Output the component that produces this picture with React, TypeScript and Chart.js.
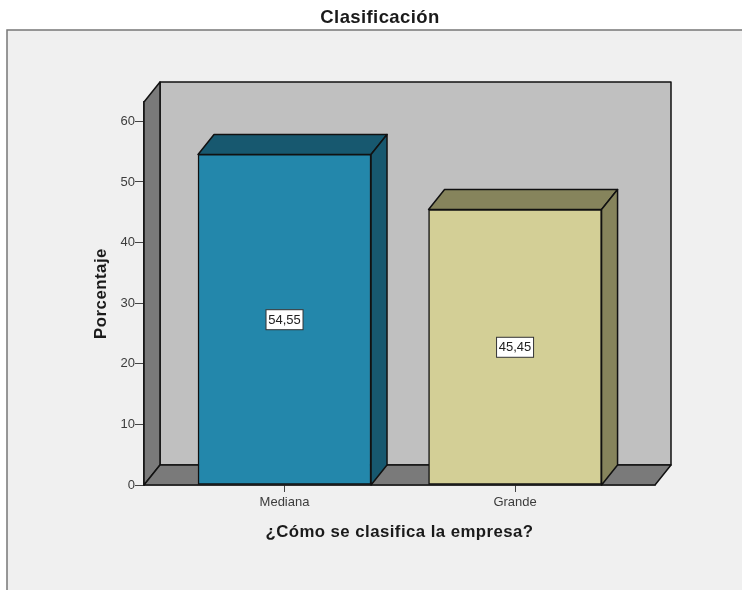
import React, { useEffect, useRef } from "react";
import { Chart, registerables } from "chart.js";

Chart.register(...registerables);

const chartTitle = "Clasificación";
const xAxisTitle = "¿Cómo se clasifica la empresa?";
const yAxisTitle = "Porcentaje";
const categories = ["Mediana", "Grande"];
const percentages = [54.55, 45.45];
const frontColors = ["#2387ab", "#d3cf96"];
const sideColors = ["#17586f", "#86845c"];
const yTicks = [0, 10, 20, 30, 40, 50, 60];
const yMax = 63.2;
const xMin = -0.6095;
const xMax = 1.607;

const FONT = "'Liberation Sans', Arial, sans-serif";
const DX = 16;
const DY = 20;
const EDGE = "#111111";

function poly(ctx: CanvasRenderingContext2D, pts: number[][], fill: string) {
  ctx.beginPath();
  pts.forEach((p, i) => (i ? ctx.lineTo(p[0], p[1]) : ctx.moveTo(p[0], p[1])));
  ctx.closePath();
  ctx.fillStyle = fill;
  ctx.fill();
  ctx.stroke();
}

// Spaced-out headings: wrap the library's own title drawing once.
function spaced(ctx: any, target: any, method: string, spacing: string) {
  if (!target || target["__spaced" + method]) return;
  const original = target[method];
  target["__spaced" + method] = true;
  target[method] = function (...args: any[]) {
    ctx.letterSpacing = spacing;
    original.apply(this, args);
    ctx.letterSpacing = "0px";
  };
}

const frame3d = {
  id: "frame3d",
  afterLayout(chart: any) {
    spaced(chart.ctx, chart.titleBlock, "draw", "0.4px");
    spaced(chart.ctx, chart.scales.x, "drawTitle", "0.45px");
    spaced(chart.ctx, chart.scales.y, "drawTitle", "0.5px");
  },
  beforeDraw(chart: any) {
    const { ctx, width, height } = chart;
    ctx.save();
    ctx.fillStyle = "#ffffff";
    ctx.fillRect(0, 0, width, height);
    ctx.fillStyle = "#f0f0f0";
    ctx.fillRect(7, 30, width - 7, height - 30);
    ctx.strokeStyle = "#777777";
    ctx.lineWidth = 1.5;
    ctx.beginPath();
    ctx.moveTo(7, height);
    ctx.lineTo(7, 30);
    ctx.lineTo(width, 30);
    ctx.stroke();
    ctx.restore();
  },
  beforeDatasetsDraw(chart: any) {
    const { ctx, chartArea: a } = chart;
    const { left: l, right: r, top: t, bottom: b } = a;
    ctx.save();
    ctx.strokeStyle = EDGE;
    ctx.lineWidth = 1.5;
    ctx.lineJoin = "round";
    poly(ctx, [[l + DX, t - DY], [r + DX, t - DY], [r + DX, b - DY], [l + DX, b - DY]], "#c0c0c0");
    poly(ctx, [[l, t], [l + DX, t - DY], [l + DX, b - DY], [l, b]], "#7a7a7a");
    poly(ctx, [[l, b], [l + DX, b - DY], [r + DX, b - DY], [r, b]], "#7a7a7a");
    chart.getDatasetMeta(0).data.forEach((bar: any, i: number) => {
      const x0 = bar.x - bar.width / 2;
      const x1 = bar.x + bar.width / 2;
      poly(ctx, [[x0, bar.y], [x0 + DX, bar.y - DY], [x1 + DX, bar.y - DY], [x1, bar.y]], sideColors[i]);
      poly(ctx, [[x1, bar.y], [x1 + DX, bar.y - DY], [x1 + DX, b - DY], [x1, b]], sideColors[i]);
    });
    ctx.restore();
  },
  afterDatasetsDraw(chart: any) {
    const { ctx } = chart;
    const yScale = chart.scales.y;
    ctx.save();
    ctx.font = `13px ${FONT}`;
    ctx.textAlign = "center";
    ctx.textBaseline = "middle";
    chart.getDatasetMeta(0).data.forEach((bar: any, i: number) => {
      const yc = yScale.getPixelForValue(percentages[i] / 2);
      ctx.fillStyle = "#ffffff";
      ctx.strokeStyle = "#333333";
      ctx.lineWidth = 1;
      ctx.fillRect(bar.x - 18.5, yc - 10, 37, 20);
      ctx.strokeRect(bar.x - 18.5, yc - 10, 37, 20);
      ctx.fillStyle = "#222222";
      ctx.fillText(percentages[i].toFixed(2).replace(".", ","), bar.x, yc + 0.5);
    });
    ctx.restore();
  },
};

export default function App() {
  const ref = useRef<HTMLCanvasElement>(null);
  useEffect(() => {
    const chart = new Chart(ref.current as HTMLCanvasElement, {
      type: "bar",
      plugins: [frame3d],
      data: {
        datasets: [
          {
            data: percentages.map((y, x) => ({ x, y })),
            backgroundColor: frontColors,
            borderColor: EDGE,
            borderWidth: 1.5,
            borderSkipped: false,
            barThickness: 173,
          } as any,
        ],
      },
      options: {
        responsive: false,
        animation: false,
        layout: { padding: { left: 105, right: 87, top: 0, bottom: 0 } },
        plugins: {
          legend: { display: false },
          tooltip: { enabled: false },
          title: {
            display: true,
            text: chartTitle,
            color: "#1a1a1a",
            font: { family: FONT, size: 18.5, weight: "bold", lineHeight: 1.2 },
            padding: { top: 6.9, bottom: 72.9 },
          },
        },
        scales: {
          x: {
            type: "linear",
            offset: false,
            min: xMin,
            max: xMax,
            afterBuildTicks: (s: any) => {
              s.ticks = categories.map((_, value) => ({ value }));
            },
            afterFit: (s: any) => {
              s.height = 105;
            },
            grid: { offset: false, drawOnChartArea: false, drawTicks: true, tickLength: 7, color: "#444444" },
            border: { display: true, color: "#333333", width: 1.5 },
            ticks: {
              callback: (v: any) => categories[v],
              color: "#3c3c3c",
              padding: 3,
              maxRotation: 0,
              autoSkip: false,
              font: { family: FONT, size: 13 },
            },
            title: {
              display: true,
              text: xAxisTitle,
              color: "#1a1a1a",
              font: { family: FONT, size: 16.8, weight: "bold", lineHeight: 1.2 },
              padding: { top: 0, bottom: 47.9 },
            },
          },
          y: {
            min: 0,
            max: yMax,
            afterBuildTicks: (s: any) => {
              s.ticks = yTicks.map((value) => ({ value }));
            },
            afterFit: (s: any) => {
              s.width = 39;
            },
            grid: { drawOnChartArea: false, drawTicks: true, tickLength: 9, color: "#444444" },
            border: { display: true, color: "#333333", width: 1.5 },
            ticks: {
              color: "#3c3c3c",
              padding: 0,
              font: { family: FONT, size: 13 },
            },
            title: {
              display: true,
              text: yAxisTitle,
              color: "#1a1a1a",
              font: { family: FONT, size: 16.8, weight: "bold", lineHeight: 1.2 },
              padding: { top: -13.6, bottom: 0 },
            },
          },
        },
      },
    } as any);
    return () => chart.destroy();
  }, []);
  return (
    <div style={{ position: "fixed", left: 0, top: 0 }}>
      <canvas ref={ref} width={742} height={590} style={{ display: "block", filter: "blur(0.4px)" }} />
    </div>
  );
}
